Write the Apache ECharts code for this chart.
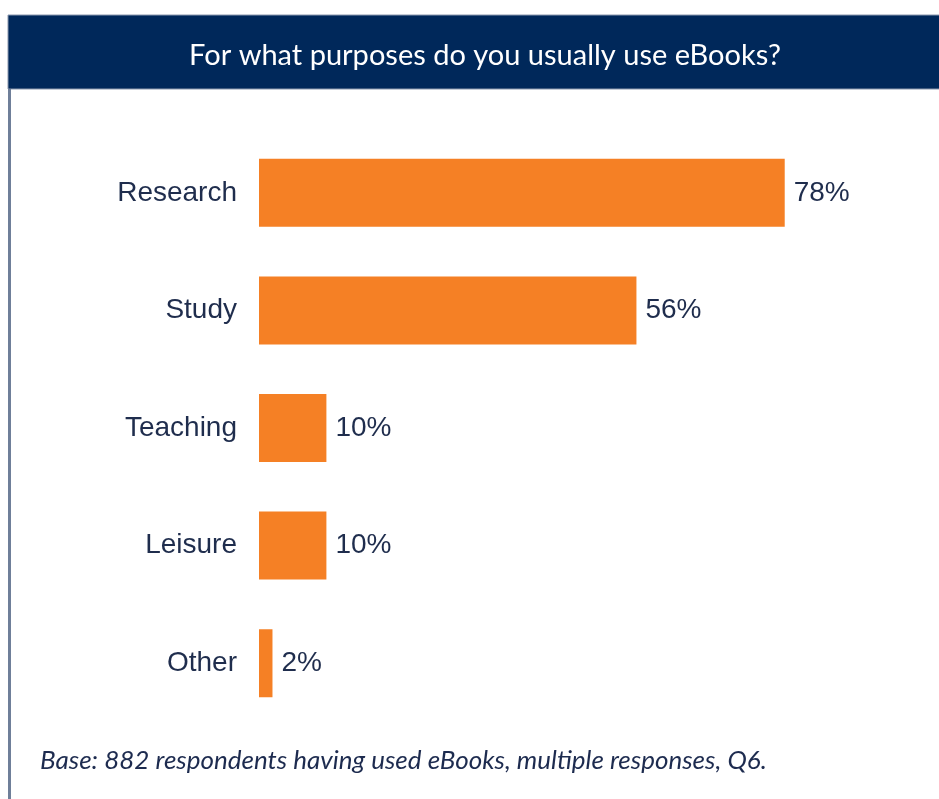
<!DOCTYPE html>
<html>
<head>
<meta charset="utf-8">
<script src="https://cdn.jsdelivr.net/npm/echarts@6/dist/echarts.min.js"></script>
<style>
html,body{margin:0;padding:0;background:#fff;}
#main{width:939px;height:799px;}
</style>
</head>
<body>
<div id="main"></div>
<script>
const categories = ['Research', 'Study', 'Teaching', 'Leisure', 'Other'];
const values = [78, 56, 10, 10, 2];
const titleText = 'For what purposes do you usually use eBooks?';
const noteText = 'Base: 882 respondents having used eBooks, multiple responses, Q6.';

const chart = echarts.init(document.getElementById('main'));
chart.setOption({
  animation: false,
  backgroundColor: '#ffffff',
  title: {
    text: titleText,
    left: 480,
    textAlign: 'center',
    top: 36,
    textStyle: { color: '#ffffff', fontFamily: 'Lato', fontSize: 29, fontWeight: 'normal' }
  },
  graphic: [
    { type: 'rect', z: -1, shape: { x: 8, y: 15, width: 940, height: 74 },
      style: { fill: '#00285a', stroke: '#8a97ad', lineWidth: 1 } },
    { type: 'rect', z: -1, shape: { x: 8, y: 89, width: 3, height: 720 },
      style: { fill: '#6f7f99' } },
    { type: 'text', left: 40, top: 748,
      style: { text: noteText, fill: '#1d2b4f', font: 'italic 26px Lato' } }
  ],
  grid: { left: 259, right: 6, top: 134, bottom: 77, containLabel: false },
  xAxis: { type: 'value', min: 0, max: 100, show: false },
  yAxis: {
    type: 'category', data: categories, inverse: true,
    axisLine: { show: false }, axisTick: { show: false },
    axisLabel: { margin: 22, color: '#1f2d4d', fontSize: 28, fontFamily: 'Liberation Sans' }
  },
  series: [{
    type: 'bar', data: values, barWidth: 68,
    itemStyle: { color: '#f58025' },
    label: { show: true, position: 'right', distance: 9, formatter: '{c}%',
      color: '#1f2d4d', fontSize: 28, fontFamily: 'Liberation Sans' }
  }]
});
</script>
</body>
</html>
